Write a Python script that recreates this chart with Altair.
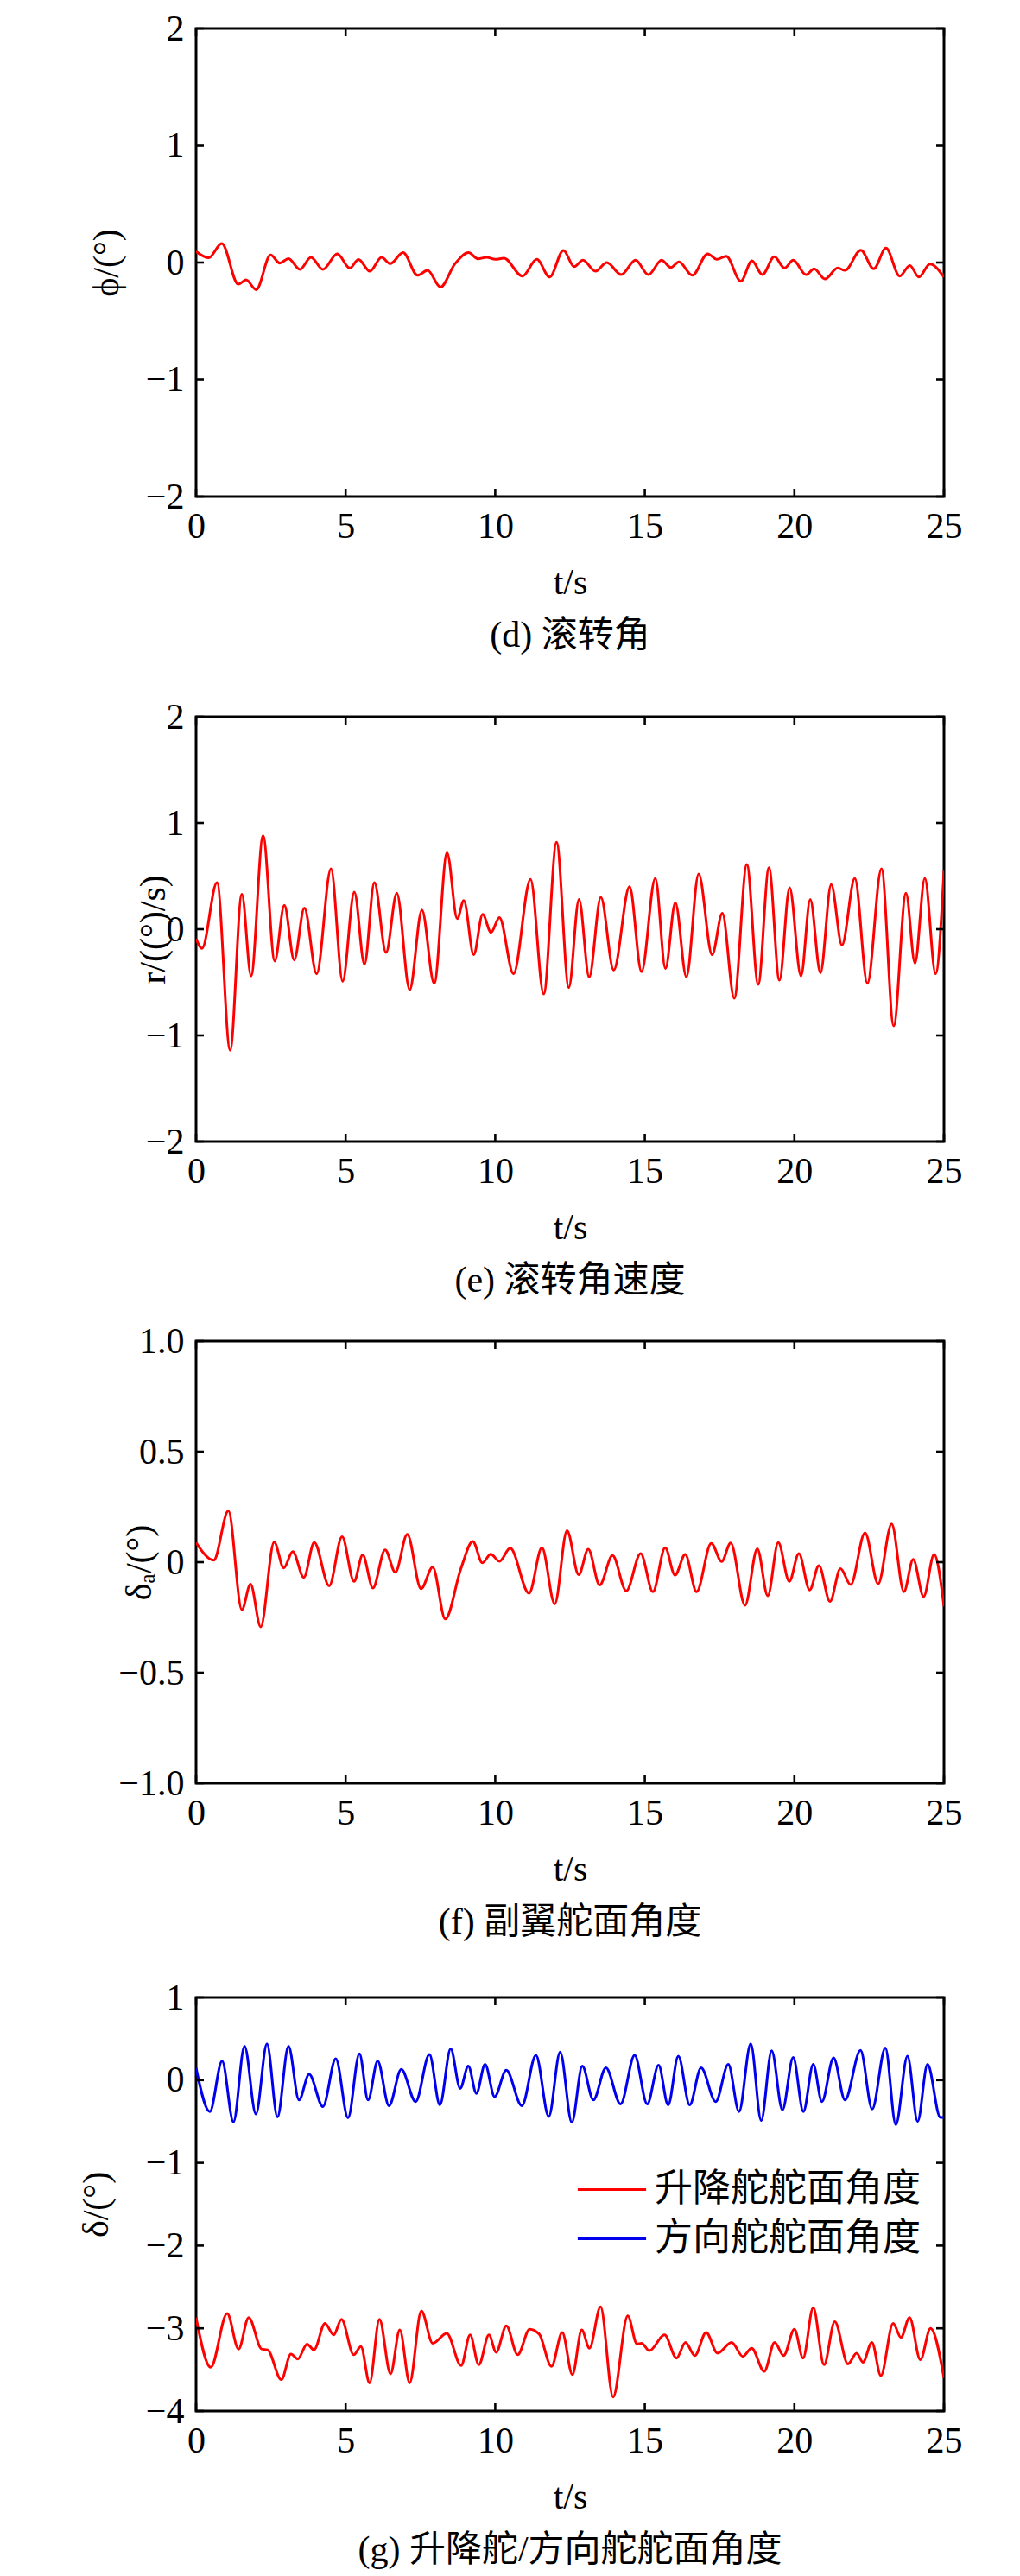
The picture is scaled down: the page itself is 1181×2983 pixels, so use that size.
import altair as alt
import pandas as pd

FONT = "Liberation Serif, Times New Roman, Noto Sans CJK SC"
RED = "#ff0000"
BLUE = "#0000ee"

T_TICKS = [0, 5, 10, 15, 20, 25]

# (d) roll angle  (t [s], phi [deg])
phi_pts = [(0, 0.094), (0.42, 0.04), (0.86, 0.163), (1.41, -0.185), (1.67, -0.148), (2.01, -0.232),
           (2.49, 0.064), (2.80, -0.005), (3.09, 0.034), (3.47, -0.059), (3.84, 0.044), (4.24, -0.059),
           (4.72, 0.074), (5.14, -0.047), (5.43, 0.025), (5.81, -0.074), (6.20, 0.044), (6.49, -0.010),
           (6.92, 0.084), (7.40, -0.109), (7.74, -0.067), (8.17, -0.21), (8.65, -0.012), (9.11, 0.084),
           (9.42, 0.032), (9.71, 0.044), (10.0, 0.027), (10.29, 0.037), (10.91, -0.116), (11.39, 0.027),
           (11.82, -0.124), (12.28, 0.104), (12.64, -0.035), (12.93, 0.02), (13.35, -0.074), (13.73, 0.0),
           (14.21, -0.104), (14.69, 0.02), (15.12, -0.104), (15.56, 0.02), (15.87, -0.042), (16.14, 0.005),
           (16.59, -0.109), (17.10, 0.074), (17.41, 0.027), (17.72, 0.054), (18.21, -0.16), (18.58, 0.015),
           (18.93, -0.104), (19.33, 0.049), (19.67, -0.047), (19.96, 0.02), (20.39, -0.104), (20.66, -0.054),
           (21.02, -0.141), (21.45, -0.047), (21.69, -0.067), (22.22, 0.106), (22.65, -0.054), (23.06, 0.123),
           (23.52, -0.116), (23.86, -0.025), (24.16, -0.124), (24.53, -0.012), (25.0, -0.125)]

# (e) roll rate
r_pts = [(0, -0.09), (0.2, -0.18), (0.70, 0.44), (1.14, -1.14), (1.53, 0.33), (1.84, -0.44), (2.24, 0.88),
         (2.63, -0.30), (2.95, 0.225), (3.28, -0.29), (3.62, 0.20), (4.03, -0.42), (4.51, 0.57), (4.90, -0.49),
         (5.29, 0.35), (5.63, -0.33), (5.96, 0.44), (6.35, -0.22), (6.71, 0.34), (7.14, -0.57), (7.55, 0.18),
         (7.96, -0.51), (8.39, 0.72), (8.73, 0.10), (8.95, 0.27), (9.28, -0.24), (9.58, 0.14), (9.86, -0.03),
         (10.14, 0.11), (10.61, -0.42), (11.18, 0.47), (11.62, -0.61), (12.05, 0.82), (12.46, -0.55),
         (12.80, 0.28), (13.14, -0.45), (13.53, 0.30), (13.96, -0.385), (14.49, 0.40), (14.89, -0.40),
         (15.35, 0.48), (15.69, -0.37), (16.02, 0.25), (16.39, -0.45), (16.80, 0.52), (17.25, -0.24),
         (17.59, 0.15), (17.99, -0.65), (18.41, 0.61), (18.79, -0.52), (19.15, 0.58), (19.50, -0.48),
         (19.84, 0.39), (20.22, -0.44), (20.53, 0.28), (20.87, -0.41), (21.23, 0.42), (21.59, -0.15),
         (22.02, 0.48), (22.44, -0.51), (22.91, 0.57), (23.32, -0.91), (23.73, 0.34), (24.03, -0.32),
         (24.36, 0.48), (24.72, -0.42), (25.0, 0.55)]

# (f) aileron deflection
da_pts = [(0, 0.089), (0.59, 0.009), (1.08, 0.232), (1.53, -0.215), (1.82, -0.100), (2.16, -0.293),
          (2.61, 0.091), (2.93, -0.026), (3.23, 0.048), (3.60, -0.069), (3.95, 0.089), (4.45, -0.107),
          (4.88, 0.115), (5.28, -0.087), (5.57, 0.033), (5.91, -0.117), (6.32, 0.056), (6.66, -0.046),
          (7.06, 0.126), (7.52, -0.120), (7.91, -0.022), (8.33, -0.257), (8.85, -0.03), (9.25, 0.094),
          (9.57, -0.003), (9.85, 0.036), (10.14, 0.004), (10.50, 0.063), (11.13, -0.141), (11.56, 0.065),
          (11.99, -0.189), (12.40, 0.143), (12.79, -0.057), (13.11, 0.059), (13.49, -0.104), (13.92, 0.030),
          (14.38, -0.130), (14.86, 0.039), (15.27, -0.134), (15.68, 0.065), (16.01, -0.059), (16.35, 0.035),
          (16.73, -0.134), (17.22, 0.085), (17.57, 0.003), (17.87, 0.087), (18.35, -0.195), (18.76, 0.061),
          (19.11, -0.152), (19.46, 0.089), (19.83, -0.087), (20.15, 0.039), (20.51, -0.126), (20.82, -0.016),
          (21.19, -0.178), (21.54, -0.029), (21.88, -0.102), (22.36, 0.133), (22.80, -0.098), (23.25, 0.173),
          (23.66, -0.134), (23.97, 0.013), (24.32, -0.156), (24.67, 0.035), (25.0, -0.20)]

# (g) elevator deflection
de_pts = [(0, -2.87), (0.49, -3.47), (1.04, -2.82), (1.42, -3.25), (1.76, -2.87), (2.19, -3.25), (2.39, -3.26),
          (2.85, -3.62), (3.17, -3.31), (3.40, -3.37), (3.71, -3.19), (3.94, -3.26), (4.31, -2.94), (4.60, -3.08),
          (4.86, -2.89), (5.27, -3.32), (5.51, -3.22), (5.80, -3.66), (6.13, -2.89), (6.50, -3.55), (6.81, -3.02),
          (7.14, -3.66), (7.53, -2.79), (7.91, -3.18), (8.38, -3.06), (8.86, -3.45), (9.16, -3.08), (9.45, -3.44),
          (9.79, -3.08), (10.03, -3.29), (10.37, -2.97), (10.75, -3.32), (11.15, -3.01), (11.47, -3.07),
          (11.88, -3.46), (12.24, -3.05), (12.58, -3.56), (12.89, -3.02), (13.15, -3.24), (13.52, -2.74),
          (13.94, -3.83), (14.43, -2.85), (14.74, -3.19), (14.89, -3.18), (15.15, -3.27), (15.66, -3.08),
          (16.06, -3.36), (16.36, -3.17), (16.67, -3.33), (17.05, -3.05), (17.43, -3.30), (17.90, -3.17),
          (18.28, -3.34), (18.57, -3.24), (18.99, -3.52), (19.34, -3.17), (19.64, -3.33), (20.00, -3.01),
          (20.29, -3.36), (20.63, -2.75), (20.99, -3.44), (21.35, -2.92), (21.79, -3.43), (22.08, -3.30),
          (22.29, -3.41), (22.59, -3.17), (22.89, -3.57), (23.30, -2.94), (23.56, -3.11), (23.85, -2.87),
          (24.21, -3.38), (24.55, -3.00), (25.0, -3.60)]

# (g) rudder deflection
dr_pts = [(0, 0.146), (0.46, -0.38), (0.87, 0.23), (1.25, -0.505), (1.62, 0.41), (2.0, -0.41), (2.37, 0.44),
          (2.72, -0.446), (3.09, 0.41), (3.44, -0.24), (3.78, 0.07), (4.24, -0.32), (4.67, 0.26), (5.08, -0.456),
          (5.46, 0.32), (5.75, -0.24), (6.07, 0.23), (6.45, -0.31), (6.86, 0.13), (7.34, -0.26), (7.80, 0.31),
          (8.15, -0.30), (8.51, 0.38), (8.83, -0.10), (9.10, 0.17), (9.37, -0.16), (9.66, 0.19), (9.98, -0.20),
          (10.37, 0.12), (10.89, -0.31), (11.36, 0.30), (11.79, -0.44), (12.17, 0.34), (12.56, -0.51),
          (12.91, 0.17), (13.28, -0.24), (13.70, 0.15), (14.19, -0.29), (14.66, 0.30), (15.08, -0.29),
          (15.46, 0.18), (15.78, -0.30), (16.12, 0.29), (16.50, -0.30), (16.88, 0.15), (17.37, -0.26),
          (17.79, 0.19), (18.15, -0.38), (18.54, 0.44), (18.89, -0.49), (19.24, 0.355), (19.60, -0.36),
          (19.96, 0.275), (20.30, -0.38), (20.63, 0.19), (20.92, -0.26), (21.31, 0.27), (21.69, -0.24),
          (22.21, 0.36), (22.60, -0.35), (23.04, 0.39), (23.39, -0.54), (23.78, 0.29), (24.12, -0.50),
          (24.45, 0.19), (24.88, -0.45), (25.0, -0.45)]

SERIES_G = ["升降舵舵面角度", "方向舵舵面角度"]

W = 866
FS = 42
TICK = 9


def frame(pts):
    return pd.DataFrame(pts, columns=["t", "v"])


def panel(df, ydom, yticks, ytitle, caption, h, title_x, label_expr, color=None, cap_line=None):
    xs = alt.Scale(domain=[0, 25], nice=False, zero=False)
    ys = alt.Scale(domain=ydom, nice=False, zero=False)
    xaxis = alt.Axis(values=T_TICKS, ticks=False, tickSize=0, domain=False, grid=False,
                     labelFlush=False, labelOverlap=False, labelPadding=14,
                     labelFont=FONT, labelFontSize=FS, labelColor="black",
                     labelExpr="replace(format(datum.value, 'd'), '-', '−')",
                     title="t/s", titleFont=FONT, titleFontSize=FS, titleFontWeight="normal",
                     titleColor="black", titlePadding=24)
    yaxis = alt.Axis(values=yticks, ticks=False, tickSize=0, domain=False, grid=False,
                     labelFlush=False, labelOverlap=False, labelPadding=14,
                     labelFont=FONT, labelFontSize=FS, labelColor="black", labelExpr=label_expr,
                     title=ytitle, titleFont=FONT, titleFontSize=FS, titleFontWeight="normal",
                     titleColor="black", titleX=title_x)
    X = alt.X("t:Q", scale=xs, axis=xaxis)
    Y = alt.Y("v:Q", scale=ys, axis=yaxis)
    if color is None:
        line = alt.Chart(df).mark_line(interpolate="monotone", strokeWidth=3, clip=True, color=RED).encode(
            x=X, y=Y)
    else:
        line = alt.Chart(df).mark_line(interpolate="monotone", strokeWidth=3, clip=True).encode(
            x=X, y=Y, color=color)
    xt = pd.DataFrame({"t": T_TICKS})
    yt = pd.DataFrame({"v": yticks})
    rule = dict(color="black", strokeWidth=2.6)
    bottom = alt.Chart(xt).mark_rule(**rule).encode(x=X, y=alt.value(h), y2=alt.value(h - TICK))
    top = alt.Chart(xt).mark_rule(**rule).encode(x=X, y=alt.value(0), y2=alt.value(TICK))
    left = alt.Chart(yt).mark_rule(**rule).encode(y=Y, x=alt.value(0), x2=alt.value(TICK))
    right = alt.Chart(yt).mark_rule(**rule).encode(y=Y, x=alt.value(W - TICK), x2=alt.value(W))
    tkw = dict(orient="bottom", offset=21, fontSize=FS, font=FONT, fontWeight="normal",
               color="black", anchor="middle", frame="group")
    if cap_line is not None:
        title = alt.TitleParams([caption, " "], lineHeight=cap_line, **tkw)
    else:
        title = alt.TitleParams(caption, **tkw)
    return alt.layer(line, bottom, top, left, right).properties(width=W, height=h, title=title)


INT_EXPR = "replace(format(datum.value, 'd'), '-', '−')"
F_EXPR = "datum.value == 0 ? '0' : replace(format(datum.value, '.1f'), '-', '−')"

pd_ = panel(frame(phi_pts), [-2, 2], [-2, -1, 0, 1, 2], "ϕ/(°)", "(d) 滚转角", 542, -82, INT_EXPR,
            cap_line=24)
pe = panel(frame(r_pts), [-2, 2], [-2, -1, 0, 1, 2], "r/((°)/s)", "(e) 滚转角速度", 492, -28, INT_EXPR)
pf = panel(frame(da_pts), [-1, 1], [-1, -0.5, 0, 0.5, 1], "δₐ/(°)", "(f) 副翼舵面角度", 512, -44, F_EXPR,
           cap_line=17)

dfg = pd.concat([frame(de_pts).assign(s=SERIES_G[0]), frame(dr_pts).assign(s=SERIES_G[1])])
gcolor = alt.Color("s:N", scale=alt.Scale(domain=SERIES_G, range=[RED, BLUE]),
                   legend=alt.Legend(title=None, orient="none", legendX=458, legendY=2479, padding=0,
                                     symbolType="M-1.8,0H1.8", symbolSize=1936, symbolStrokeWidth=3,
                                     symbolFillColor="transparent",
                                     labelFont=FONT, labelFontSize=44, labelColor="black",
                                     labelOffset=26, rowPadding=11, labelLimit=500))
pg = panel(dfg, [-4, 1], [-4, -3, -2, -1, 0, 1], "δ/(°)", "(g) 升降舵/方向舵舵面角度", 479, -94, INT_EXPR,
           color=gcolor)

chart = alt.vconcat(pd_, pe, pf, pg, spacing=24).properties(
    padding={"left": 80, "top": 2, "right": 5, "bottom": 5}
).configure_view(stroke="black", strokeWidth=3)

chart.save("out.html", embed_options={"renderer": "svg", "actions": False})
